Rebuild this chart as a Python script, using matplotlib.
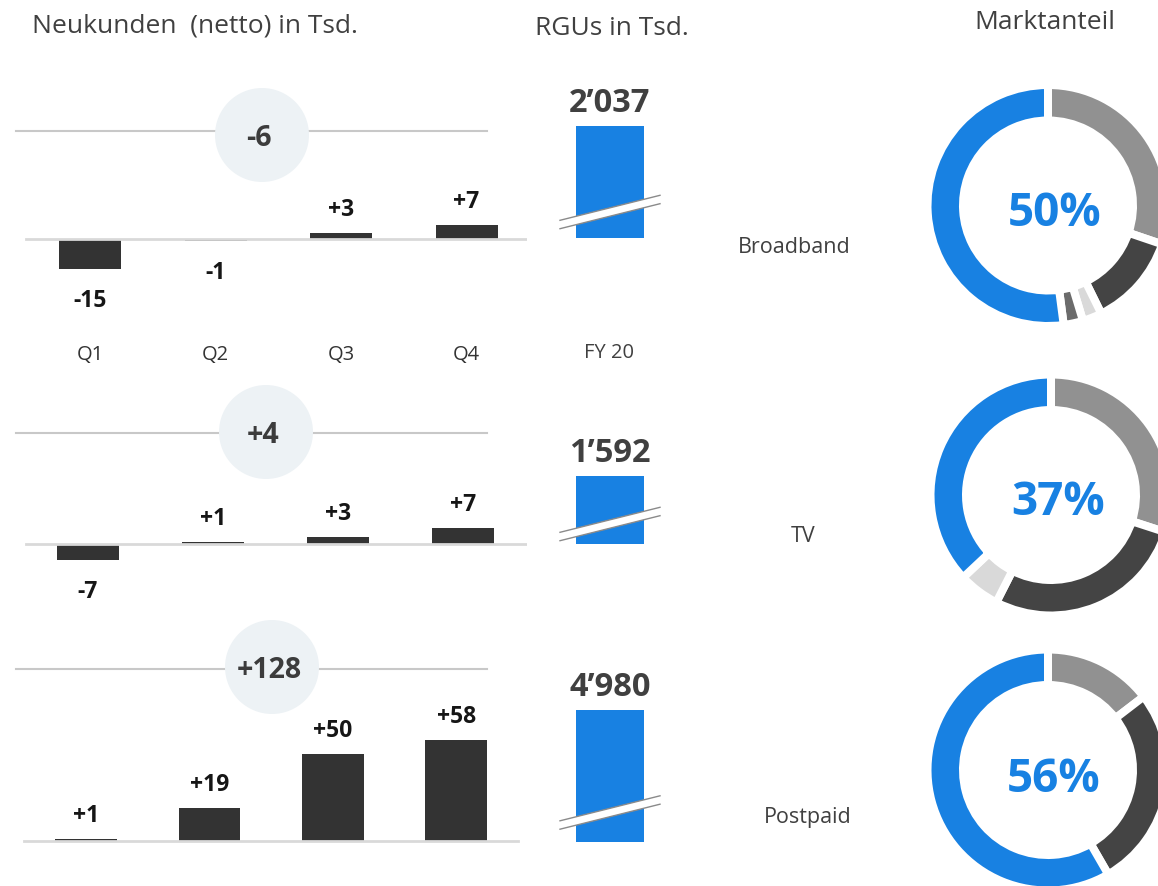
import matplotlib.pyplot as plt
from matplotlib.patches import Circle, Polygon

plt.rcParams['font.family'] = ['Open Sans', 'DejaVu Sans']

# data
quarters = ['Q1', 'Q2', 'Q3', 'Q4']
products = ['Broadband', 'TV', 'Postpaid']
broadband_adds = [-15, -1, 3, 7]
tv_adds = [-7, 1, 3, 7]
postpaid_adds = [1, 19, 50, 58]
rgu_period = 'FY 20'
rgu_values = [2037, 1592, 4980]
broadband_share = [29, 12, 2.5, 2.5, 50]
tv_share = [30, 27.5, 5.5, 37]
postpaid_share = [14, 26, 56]

BLUE = '#1881e2'
DARK = '#333333'
broadband_colors = ['#919191', '#444444', '#d9d9d9', '#6b6b6b', BLUE]
tv_colors = ['#919191', '#444444', '#d9d9d9', BLUE]
postpaid_colors = ['#919191', '#444444', BLUE]

W, H = 1158, 886
PT = 0.72  # points per pixel at dpi 100

fig = plt.figure(figsize=(W / 100, H / 100), dpi=100)


def px_axes(x0, y0, x1, y1):
    return fig.add_axes([x0 / W, 1 - y1 / H, (x1 - x0) / W, (y1 - y0) / H])


# overlay in pixel coordinates for decorations and free text
bg = px_axes(0, 0, W, H)
bg.set_xlim(0, W)
bg.set_ylim(H, 0)
bg.axis('off')

bg.text(32, 32, 'Neukunden  (netto) in Tsd.', fontsize=19, color='#404040', va='baseline')
bg.text(612, 35, 'RGUs in Tsd.', fontsize=19, color='#404040', ha='center', va='baseline')
bg.text(1045, 29, 'Marktanteil', fontsize=19, color='#404040', ha='center', va='baseline')

# ---- net adds per quarter ----
adds = [broadband_adds, tv_adds, postpaid_adds]
base_y = [239, 544, 841]
px_per_unit = [2.0, 2.35, 1.74]
first_x = [90, 88, 86]
step_x = [125.5, 125, 123.5]
base_x = [(26, 527), (26, 527), (24, 518)]
line_y = [131, 433, 669]
circle_xy = [(262, 135), (266, 432), (272, 667)]

for k, vals in enumerate(adds):
    # total bubble on top line
    bg.plot([16, 487], [line_y[k], line_y[k]], color='#c8c8c8', lw=1.5, zorder=1)
    cx, cy = circle_xy[k]
    bg.add_patch(Circle((cx, cy), 47, facecolor='#edf2f5', edgecolor='none', zorder=2))
    bg.text(cx - 3, cy + 11, f'{sum(vals):+d}', fontsize=20.5, fontweight='bold',
            color='#3c3c3c', ha='center', va='baseline', zorder=3)

    ax = px_axes(16, base_y[k] - 150, 527, base_y[k] + 90)
    s = px_per_unit[k]
    ax.set_ylim(-90 / s, 150 / s)
    ax.set_xlim((16 - first_x[k]) / step_x[k], (527 - first_x[k]) / step_x[k])
    ax.axis('off')
    ax.axhline(0, xmin=(base_x[k][0] - 16) / 511, xmax=(base_x[k][1] - 16) / 511,
               color='#d9d9d9', lw=2, zorder=3)
    ax.bar(range(len(vals)), vals, width=62 / step_x[k], color=DARK, zorder=2)
    for i, v in enumerate(vals):
        off = 17 if v >= 0 else -38
        ax.annotate(f'{v:+d}', (i, v), xytext=(0, off * PT), textcoords='offset points',
                    ha='center', va='baseline', fontsize=16.5, fontweight='bold', color='#161616')
    if k == 0:
        for i, q in enumerate(quarters):
            ax.annotate(q, (i, 0), xytext=(0, -(360 - base_y[k]) * PT), textcoords='offset points',
                        ha='center', va='baseline', fontsize=14.5, color='#333333')

# ---- RGUs (broken bars) ----
rgu_bottom = [238, 544, 842]
rgu_px = [112, 68, 132]
break_left = [13.5, 7.5, 17]
AX_H = 160
for k, v in enumerate(rgu_values):
    ax = px_axes(560, rgu_bottom[k] - AX_H, 660, rgu_bottom[k])
    ax.set_xlim(-0.5, 0.5)
    ax.set_ylim(0, v * AX_H / rgu_px[k])
    ax.axis('off')
    ax.bar(0, v, width=0.68, color=BLUE)
    ax.annotate(f'{v:,}'.replace(',', '\u2019'), (0, v), xytext=(0, 14 * PT),
                textcoords='offset points', ha='center', va='baseline',
                fontsize=23.5, fontweight='bold', color='#404040')
    l = break_left[k] / AX_H
    r = (break_left[k] + 25) / AX_H
    t = 4.2 / AX_H
    ax.add_patch(Polygon([(0, l - t), (1, r - t), (1, r + t), (0, l + t)], closed=True,
                         facecolor='white', edgecolor='none', transform=ax.transAxes,
                         clip_on=False, zorder=3))
    for sgn in (-1, 1):
        ax.plot([0, 1], [l + sgn * t, r + sgn * t], color='#8a8a8a', lw=1.0,
                transform=ax.transAxes, clip_on=False, zorder=4)

bg.text(609, 358, rgu_period, fontsize=14.5, color='#404040', ha='center', va='baseline')

# ---- market share donuts ----
label_pos = [(794, 253), (803, 542), (808, 823)]
for k, p in enumerate(products):
    bg.text(label_pos[k][0], label_pos[k][1], p, fontsize=15.5, color='#404040',
            ha='center', va='baseline')

shares = [broadband_share, tv_share, postpaid_share]
colors = [broadband_colors, tv_colors, postpaid_colors]
donut_c = [(1048, 205.5), (1051, 495), (1048, 770)]
pct_pos = [(1055, 226), (1058, 515), (1054, 792)]
for k, sh in enumerate(shares):
    cx, cy = donut_c[k]
    ax = px_axes(cx - 125, cy - 125, cx + 125, cy + 125)
    ax.pie(sh, colors=colors[k], startangle=90, counterclock=False, radius=1.205,
           wedgeprops=dict(width=0.355, edgecolor='white', linewidth=8 * PT))
    ax.set_xlim(-1.25, 1.25)
    ax.set_ylim(-1.25, 1.25)
    ax.axis('off')
    bg.text(pct_pos[k][0], pct_pos[k][1], f'{sh[-1]:g}%', fontsize=33, fontweight='bold',
            color=BLUE, ha='center', va='baseline')

fig.savefig('out.png', dpi=100)
